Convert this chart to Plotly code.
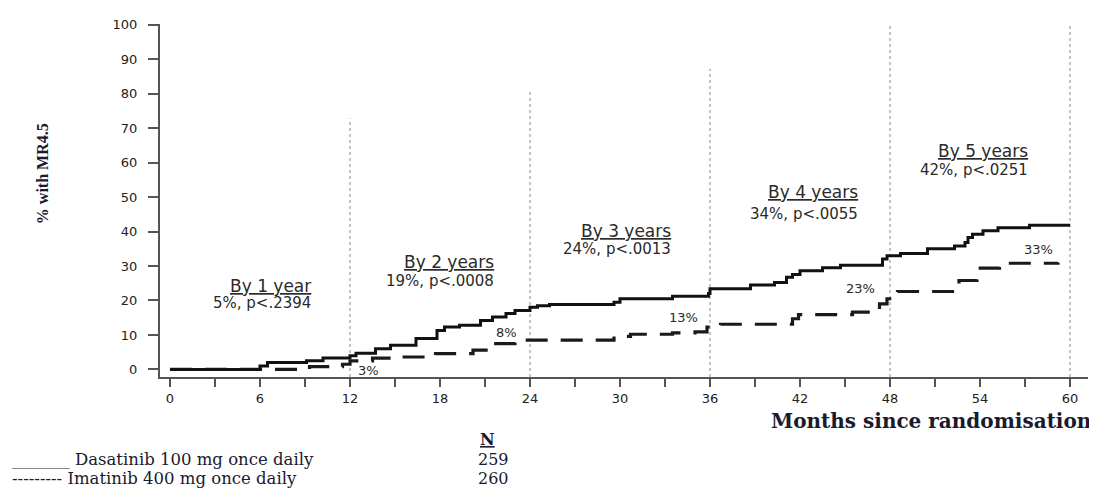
import plotly.graph_objects as go

# ---------------- data ----------------
dasatinib_months = [0, 6, 6.5, 9.1, 10.2, 12, 12.4, 13.7, 14.7, 16.4, 17.8, 18.3, 19.3, 20.7, 21.5,
                    22.4, 23, 24, 24.5, 25.3, 29.6, 30, 33.5, 35.9, 36, 38.7, 40.3, 41.1, 41.5, 42,
                    43.5, 44.7, 47.5, 47.8, 48.7, 50.5, 52.3, 53, 53.2, 53.5, 54.2, 55.2, 57.3, 60]
dasatinib_pct = [0, 1, 2, 2.5, 3.3, 4, 4.7, 6, 7, 9, 11.3, 12.3, 12.8, 14.2, 15.2,
                 16.2, 17.1, 18, 18.5, 18.8, 19.5, 20.5, 21.2, 22, 23.4, 24.5, 25.2, 26.7, 27.5, 28.6,
                 29.5, 30.2, 32, 33, 33.6, 35, 35.8, 36.8, 38.3, 39.2, 40.2, 41.1, 41.8, 41.8]

imatinib_months = [0, 6, 9.3, 11.5, 12, 13.5, 15.5, 17.7, 20.2, 21.5, 23, 29.6, 30.7, 33.5, 35,
                   35.8, 36.7, 41.5, 41.9, 45.5, 47.3, 47.8, 48.5, 52.6, 53.8, 55.3, 59.2]
imatinib_pct = [0, 0, 0.8, 1.5, 2.5, 3.3, 3.6, 4.6, 5.6, 7.5, 8.5, 9.6, 10.2, 10.6, 10.9,
                12.3, 13.1, 14.7, 15.9, 16.6, 19, 20.5, 22.6, 25.8, 29.4, 30.8, 31]

year_marks = [12, 24, 36, 48, 60]
year_line_top = [72.8, 80.6, 87.2, 100, 100]
year_titles = ["By 1 year", "By 2 years", "By 3 years", "By 4 years", "By 5 years"]
year_stats = ["5%, p<.2394", "19%, p<.0008", "24%, p<.0013", "34%, p<.0055", "42%, p<.0251"]
imatinib_labels = ["3%", "8%", "13%", "23%", "33%"]

y_ticks = list(range(0, 101, 10))
x_ticks = list(range(0, 61, 6))

legend_names = ["_______ Dasatinib 100 mg once daily", "--------- Imatinib 400 mg once daily"]
legend_n = ["259", "260"]

# ---------------- layout helpers (positions) ----------------
# the page body adds an 8px offset, so the figure is 8px smaller on each side
OFF = 8
W, H = 1097 - OFF, 489 - OFF
L, R, T, B = 160 - OFF, 9, 22 - OFF, 489 - 377
X0, X1 = -0.667, 61.2
Y0, Y1 = -2.2, 100.2

def px_paper(px, py):
    # px, py are page pixel coordinates of the reference picture
    fx, fy = px - OFF, py - OFF
    return (fx - L) / (W - L - R), (H - B - fy) / (H - T - B)

title_pos = [(9.53, 24.2), (21.7, 31.2), (33.5, 40.1), (46, 51.4), (57.3, 63.5)]
stat_pos = [(9.53, 19.2), (21.7, 25.6), (33.5, 34.8), (46, 45.2), (57.3, 57.9)]
ima_label_pos = [(13.2, -0.2), (22.4, 10.8), (34.2, 15.2), (46.0, 23.4), (57.9, 34.9)]

fig = go.Figure()

# vertical dotted reference lines
for xm, top in zip(year_marks, year_line_top):
    fig.add_shape(type="line", x0=xm, x1=xm, y0=Y0, y1=top, xref="x", yref="y",
                  line=dict(color="#8a8a8a", width=1, dash="dot"), layer="below")

fig.add_trace(go.Scatter(x=imatinib_months, y=imatinib_pct, mode="lines", line_shape="hv",
                         line=dict(color="#1a1a1a", width=3.2, dash="22px,13px"),
                         name="Imatinib", showlegend=False, hoverinfo="skip"))
fig.add_trace(go.Scatter(x=dasatinib_months, y=dasatinib_pct, mode="lines", line_shape="hv",
                         line=dict(color="#111111", width=3),
                         name="Dasatinib", showlegend=False, hoverinfo="skip"))

sans = "DejaVu Sans"
serif = "DejaVu Serif"
txt = "#2a2a2a"

for (tx, ty), (sx, sy), t, s in zip(title_pos, stat_pos, year_titles, year_stats):
    fig.add_annotation(x=tx, y=ty, xref="x", yref="y", text="<u>" + t + "</u>", showarrow=False,
                       xanchor="right", yanchor="middle", font=dict(family=sans, size=17, color=txt))
    fig.add_annotation(x=sx, y=sy, xref="x", yref="y", text=s, showarrow=False,
                       xanchor="right", yanchor="middle", font=dict(family=sans, size=15, color=txt))

for (lx, ly), lab in zip(ima_label_pos, imatinib_labels):
    fig.add_annotation(x=lx, y=ly, xref="x", yref="y", text=lab, showarrow=False,
                       xanchor="center", yanchor="middle", font=dict(family=sans, size=13, color=txt))

# axis titles
ax, ay = px_paper(42, 173)
fig.add_annotation(x=ax, y=ay, xref="paper", yref="paper", text="<b>% with MR4.5</b>", textangle=-90,
                   showarrow=False, xanchor="center", yanchor="middle",
                   font=dict(family="Liberation Serif", size=16, color="#1a1a2e"))
bx, by = px_paper(1094, 421)
fig.add_annotation(x=bx, y=by, xref="paper", yref="paper", text="<b>Months since randomisation</b>",
                   showarrow=False, xanchor="right", yanchor="middle",
                   font=dict(family=serif, size=20, color="#1a1a2e"))

# bottom legend table
for name, n, py in zip(legend_names, legend_n, [460, 479]):
    lx, ly = px_paper(10, py)
    fig.add_annotation(x=lx, y=ly, xref="paper", yref="paper", text=name, showarrow=False,
                       xanchor="left", yanchor="middle", font=dict(family=serif, size=16.5, color="#1a1a2e"))
    nx, ny = px_paper(476, py)
    fig.add_annotation(x=nx, y=ny, xref="paper", yref="paper", text=n, showarrow=False,
                       xanchor="left", yanchor="middle", font=dict(family=serif, size=16, color="#1a1a2e"))
hx, hy = px_paper(478, 440)
fig.add_annotation(x=hx, y=hy, xref="paper", yref="paper", text="<b><u>N</u></b>", showarrow=False,
                   xanchor="left", yanchor="middle", font=dict(family=serif, size=16, color="#1a1a2e"))

fig.update_layout(
    width=W, height=H,
    margin=dict(l=L, r=R, t=T, b=B),
    plot_bgcolor="white", paper_bgcolor="white",
    xaxis=dict(range=[X0, X1], tickmode="array", tickvals=x_ticks, ticktext=[str(v) for v in x_ticks],
               showgrid=False, zeroline=False, showline=True, linecolor="#555555", linewidth=2,
               ticks="outside", ticklen=8, tickwidth=2, tickcolor="#555555",
               minor=dict(dtick=3, tick0=0, ticks="outside", ticklen=8, tickwidth=2, tickcolor="#555555"),
               tickfont=dict(family=sans, size=13, color="#222222")),
    yaxis=dict(range=[Y0, Y1], tickmode="array", tickvals=y_ticks, ticktext=[str(v) for v in y_ticks],
               showgrid=False, zeroline=False, showline=True, linecolor="#555555", linewidth=2,
               ticks="outside", ticklen=10, tickwidth=2, tickcolor="#555555", ticklabelstandoff=8,
               tickfont=dict(family=sans, size=13, color="#222222")),
)

fig.write_html("out.html")
